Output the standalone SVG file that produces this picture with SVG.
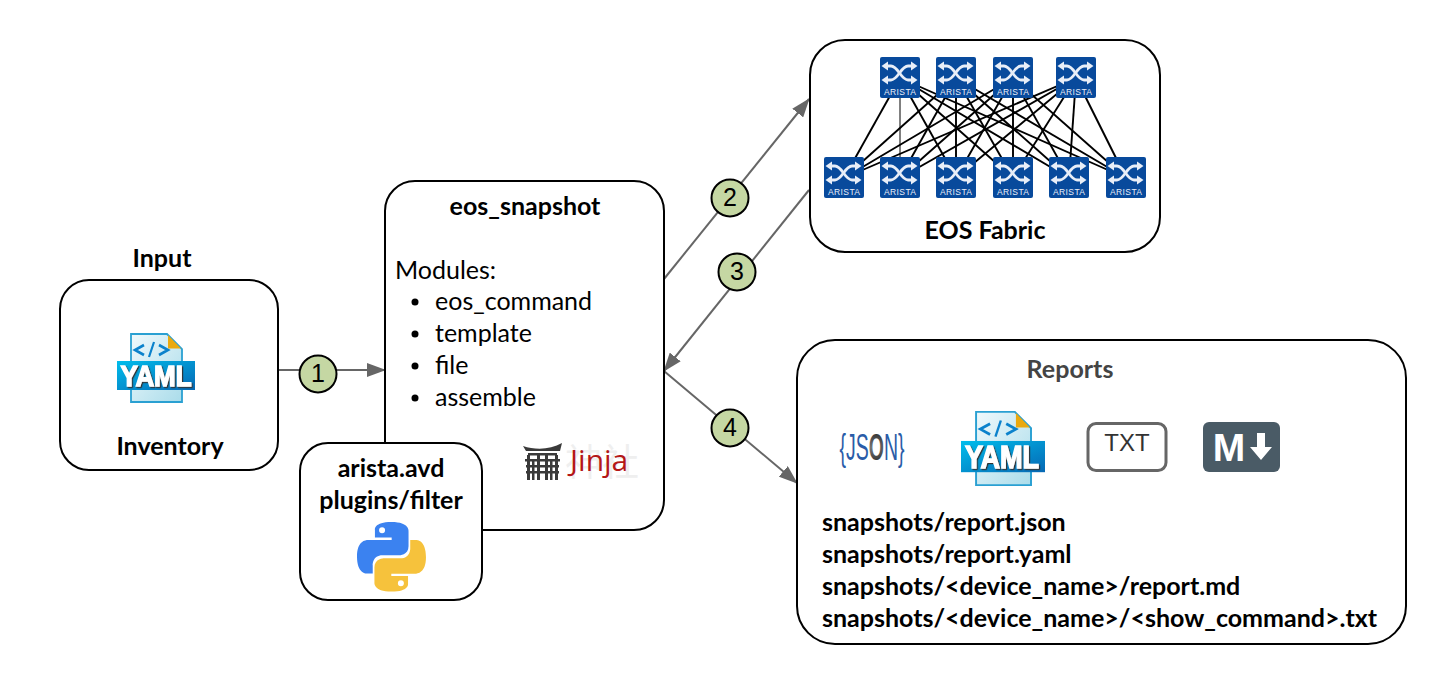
<svg xmlns="http://www.w3.org/2000/svg" width="1447" height="684" viewBox="0 0 1447 684">
<style>
.box{fill:#fff;stroke:#000;stroke-width:2}
.t{font-family:Lato,"Liberation Sans",sans-serif;font-size:25px;fill:#000}
.b{font-weight:700}
.m{text-anchor:middle}
.ar{font-family:"Liberation Sans",Arial,sans-serif;font-size:8.500px;fill:#e8eef8;text-anchor:middle}
.fab line{stroke:#000;stroke-width:1.900}
.conn{stroke:#666;stroke-width:2;fill:none}
.num circle{fill:#c5d7a3;stroke:#000;stroke-width:2}
.num text{font-family:"Liberation Sans",Arial,sans-serif;font-size:25px;fill:#000;text-anchor:middle}
.yt{font-family:"Liberation Sans",Arial,sans-serif;font-weight:700;fill:#fff;stroke:#fff;stroke-width:1.400;text-anchor:middle;filter:url(#ysh)}
</style>
<defs>
<marker id="arr" markerWidth="19" markerHeight="14" refX="18" refY="7" orient="auto" markerUnits="userSpaceOnUse"><path d="M0 0L19 7L0 14z" fill="#666"/></marker>
<linearGradient id="yg" x1="0" y1="0" x2="1" y2="1"><stop offset="0" stop-color="#f0f9fc"/><stop offset="1" stop-color="#aadcea"/></linearGradient>
<linearGradient id="yb" x1="0" y1="0" x2="1" y2="1"><stop offset="0" stop-color="#00bdec"/><stop offset="1" stop-color="#0668b4"/></linearGradient>
<radialGradient id="jo" cx=".5" cy=".5" r=".6"><stop offset="0" stop-color="#777"/><stop offset="1" stop-color="#050505"/></radialGradient>
<filter id="ysh" x="-10%" y="-20%" width="125%" height="150%"><feDropShadow dx="1.200" dy="1.200" stdDeviation=".3" flood-color="#333"/></filter>
<symbol id="sw" viewBox="0 0 40 41" width="40" height="41">
<rect width="40" height="41" rx="2" fill="#084a9c"/>
<g fill="none" stroke="#e8eef8" stroke-width="2.800"><path d="M6 9H11C18 9 21 23 28 23H33"/><path d="M6 23H11C18 23 21 9 28 9H33"/></g>
<g fill="#e8eef8"><path d="M1.500 9L8 4.500V13.500z"/><path d="M1.500 23L8 18.500V27.500z"/><path d="M37.500 9L31 4.500V13.500z"/><path d="M37.500 23L31 18.500V27.500z"/></g>
</symbol>
<symbol id="ydoc" viewBox="0 0 78 70" width="78" height="70" overflow="visible">
<path d="M14 1H50L65 16V69H14z" fill="url(#yg)" stroke="#2aa0d2" stroke-width="1.800"/>
<path d="M51 2L64 15.500H51z" fill="#eaa90f"/>
<rect x="0" y="28" width="78" height="29" fill="url(#yb)"/>
<path d="M27 12L18 17L27 22M42 12L51 17L42 22" fill="none" stroke="#0b82cc" stroke-width="2.600"/>
<path d="M32 24L37 9" fill="none" stroke="#0b82cc" stroke-width="2.200"/>
</symbol>
</defs>

<rect width="1447" height="684" fill="#fff"/>

<g id="connectors">
<path class="conn" d="M278 370H385" marker-end="url(#arr)"/>
<path class="conn" d="M664 279L809 99" marker-end="url(#arr)"/>
<path class="conn" d="M809 190L664 371" marker-end="url(#arr)"/>
<path class="conn" d="M664 371L797 483" marker-end="url(#arr)"/>
</g>

<g id="input">
<text class="t b m" x="162" y="267">Input</text>
<rect class="box" x="60" y="280" width="218" height="190" rx="29"/>
<g id="input-yaml"><use href="#ydoc" x="117" y="333"/><text class="yt" x="156" y="386" font-size="29" textLength="71" lengthAdjust="spacingAndGlyphs">YAML</text></g>
<text class="t b m" x="170" y="455">Inventory</text>
</g>

<g id="eos_snapshot">
<rect class="box" x="385" y="181" width="279" height="349" rx="30"/>
<text class="t b m" x="525" y="215">eos_snapshot</text>
<text class="t" x="395" y="279">Modules:</text>
<circle cx="415" cy="302" r="3.500"/><text class="t" x="435" y="310">eos_command</text>
<circle cx="415" cy="334" r="3.500"/><text class="t" x="435" y="342">template</text>
<circle cx="415" cy="366" r="3.500"/><text class="t" x="435" y="374">file</text>
<circle cx="415" cy="398" r="3.500"/><text class="t" x="435" y="406">assemble</text>
<g id="jinja">
<text x="565" y="476" font-family="'Noto Sans CJK SC',sans-serif" font-size="37" fill="#efefef">神社</text>
<g fill="#3a3a3a"><path d="M523 446C535 450 550 450 562 443L560 451H526z"/><rect x="528" y="453" width="29" height="2.500"/><rect x="525" y="459" width="35" height="2.500"/><rect x="526" y="465" width="33" height="2.500"/><rect x="526" y="471" width="33" height="2.500"/><rect x="527" y="455" width="3" height="25"/><rect x="532" y="461" width="2.500" height="19"/><rect x="537" y="455" width="3" height="25"/><rect x="545" y="455" width="3" height="25"/><rect x="550" y="461" width="2.500" height="19"/><rect x="555" y="455" width="3" height="25"/></g>
<text x="570" y="471" font-family="'Open Sans',sans-serif" font-size="30" fill="#b41717">Jinja</text>
</g>
</g>

<g id="plugins">
<rect class="box" x="300" y="443" width="182" height="157" rx="28"/>
<text class="t b m" x="391" y="477">arista.avd</text>
<text class="t b m" x="391" y="509">plugins/filter</text>
<g id="python" transform="translate(357 522) scale(.627)">
<path fill="#3b82f0" fill-rule="evenodd" d="M54.900 0C26.900 0 28.600 12.200 28.600 12.200V24.800H55.300V28.600H18S0 26.600 0 54.900 15.700 82.200 15.700 82.200H25.100V68.900S24.600 53.200 40.600 53.200H67.200S82.200 53 82.200 38.700V14.900S84.500 0 54.900 0zM40 8.500A4.800 4.800 0 1 1 40 18.100 4.800 4.800 0 1 1 40 8.500z"/>
<path fill="#f6c23c" fill-rule="evenodd" transform="rotate(180 55 55.500)" d="M54.900 0C26.900 0 28.600 12.200 28.600 12.200V24.800H55.300V28.600H18S0 26.600 0 54.900 15.700 82.200 15.700 82.200H25.100V68.900S24.600 53.200 40.600 53.200H67.200S82.200 53 82.200 38.700V14.900S84.500 0 54.900 0zM40 8.500A4.800 4.800 0 1 1 40 18.100 4.800 4.800 0 1 1 40 8.500z"/>
</g>
</g>

<g id="eos-fabric">
<rect class="box" x="810" y="40" width="350" height="212" rx="35"/>
<text class="t b m" x="985" y="239">EOS Fabric</text>
<g id="fabric-links" class="fab">
<line x1="900" y1="78" x2="844" y2="178"/><line x1="900" y1="78" x2="900" y2="178" style="stroke-width:1"/><line x1="900" y1="78" x2="956" y2="178"/><line x1="900" y1="78" x2="1013" y2="178"/><line x1="900" y1="78" x2="1069" y2="178"/><line x1="900" y1="78" x2="1126" y2="178"/>
<line x1="956" y1="78" x2="844" y2="178"/><line x1="956" y1="78" x2="900" y2="178"/><line x1="956" y1="78" x2="956" y2="178"/><line x1="956" y1="78" x2="1013" y2="178"/><line x1="956" y1="78" x2="1069" y2="178"/><line x1="956" y1="78" x2="1126" y2="178"/>
<line x1="1013" y1="78" x2="844" y2="178"/><line x1="1013" y1="78" x2="900" y2="178"/><line x1="1013" y1="78" x2="956" y2="178"/><line x1="1013" y1="78" x2="1013" y2="178"/><line x1="1013" y1="78" x2="1069" y2="178"/><line x1="1013" y1="78" x2="1126" y2="178"/>
<line x1="1076" y1="78" x2="844" y2="178"/><line x1="1076" y1="78" x2="900" y2="178"/><line x1="1076" y1="78" x2="956" y2="178"/><line x1="1076" y1="78" x2="1013" y2="178"/><line x1="1076" y1="78" x2="1069" y2="178"/><line x1="1076" y1="78" x2="1126" y2="178"/>
</g>
<g id="spine1"><use href="#sw" x="880" y="57"/><text class="ar" x="900" y="95" textLength="32">ARISTA</text></g>
<g id="spine2"><use href="#sw" x="936" y="57"/><text class="ar" x="956" y="95" textLength="32">ARISTA</text></g>
<g id="spine3"><use href="#sw" x="993" y="57"/><text class="ar" x="1013" y="95" textLength="32">ARISTA</text></g>
<g id="spine4"><use href="#sw" x="1056" y="57"/><text class="ar" x="1076" y="95" textLength="32">ARISTA</text></g>
<g id="leaf1"><use href="#sw" x="824" y="157"/><text class="ar" x="844" y="195" textLength="32">ARISTA</text></g>
<g id="leaf2"><use href="#sw" x="880" y="157"/><text class="ar" x="900" y="195" textLength="32">ARISTA</text></g>
<g id="leaf3"><use href="#sw" x="936" y="157"/><text class="ar" x="956" y="195" textLength="32">ARISTA</text></g>
<g id="leaf4"><use href="#sw" x="993" y="157"/><text class="ar" x="1013" y="195" textLength="32">ARISTA</text></g>
<g id="leaf5"><use href="#sw" x="1049" y="157"/><text class="ar" x="1069" y="195" textLength="32">ARISTA</text></g>
<g id="leaf6"><use href="#sw" x="1106" y="157"/><text class="ar" x="1126" y="195" textLength="32">ARISTA</text></g>
</g>

<g id="reports">
<rect class="box" x="797" y="340" width="609" height="304" rx="38"/>
<text class="t b m" x="1070" y="378" style="fill:#444">Reports</text>
<g id="json-icon">
<text x="872" y="460" font-family="'Liberation Sans',sans-serif" font-size="37" text-anchor="middle" textLength="65" lengthAdjust="spacingAndGlyphs" fill="#2a5ca8">{JS<tspan fill="url(#jo)" font-weight="700">O</tspan>N}</text>
</g>
<g id="yaml-icon"><use href="#ydoc" x="961" y="410" width="84" height="77"/><text class="yt" x="1002" y="468" font-size="31" textLength="74" lengthAdjust="spacingAndGlyphs">YAML</text></g>
<g id="txt-icon"><rect x="1088" y="423.500" width="78" height="47" rx="8" fill="#fff" stroke="#666" stroke-width="3"/><text x="1127" y="451" font-family="'Liberation Sans',sans-serif" font-size="24" fill="#333" text-anchor="middle">TXT</text></g>
<g id="md-icon"><rect x="1203" y="422" width="77" height="50" rx="6" fill="#4a5b66"/><text x="1229" y="461" font-family="'Liberation Sans',sans-serif" font-weight="700" font-size="39" fill="#fff" text-anchor="middle">M</text><path d="M1257 433H1265V447H1272L1261 460L1250 447H1257z" fill="#fff"/></g>
<text class="t b" x="822" y="531">snapshots/report.json</text>
<text class="t b" x="822" y="563">snapshots/report.yaml</text>
<text class="t b" x="822" y="595">snapshots/&lt;device_name&gt;/report.md</text>
<text class="t b" x="822" y="627">snapshots/&lt;device_name&gt;/&lt;show_command&gt;.txt</text>
</g>

<g id="steps" class="num">
<g id="step1"><circle cx="318" cy="374" r="18.500"/><text x="318" y="382">1</text></g>
<g id="step2"><circle cx="730" cy="198" r="18.500"/><text x="730" y="206">2</text></g>
<g id="step3"><circle cx="737" cy="272" r="18.500"/><text x="737" y="280">3</text></g>
<g id="step4"><circle cx="730" cy="428" r="18.500"/><text x="730" y="436">4</text></g>
</g>
</svg>
